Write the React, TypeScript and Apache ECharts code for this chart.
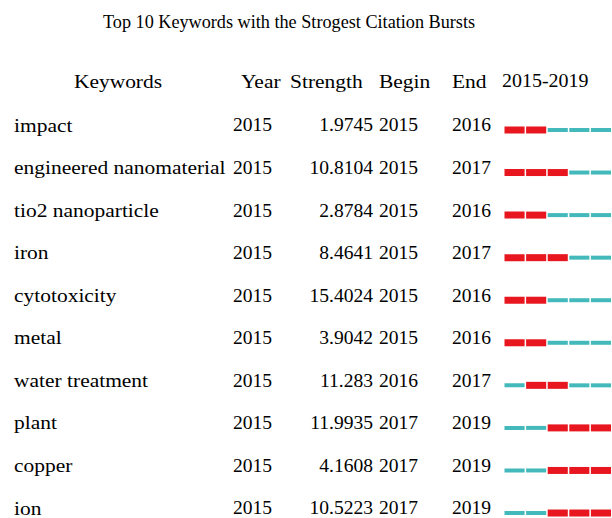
import React, { useEffect, useRef } from "react";
import * as echarts from "echarts";

const titleText = "Top 10 Keywords with the Strogest Citation Bursts";
const headers = ["Keywords", "Year", "Strength", "Begin", "End", "2015-2019"];
const keywords = [
  "impact",
  "engineered nanomaterial",
  "tio2 nanoparticle",
  "iron",
  "cytotoxicity",
  "metal",
  "water treatment",
  "plant",
  "copper",
  "ion",
];
const years = [2015, 2015, 2015, 2015, 2015, 2015, 2015, 2015, 2015, 2015];
const strengths = [1.9745, 10.8104, 2.8784, 8.4641, 15.4024, 3.9042, 11.283, 11.9935, 4.1608, 10.5223];
const begins = [2015, 2015, 2015, 2015, 2015, 2015, 2016, 2017, 2017, 2017];
const ends = [2016, 2017, 2016, 2017, 2016, 2016, 2017, 2019, 2019, 2019];
const rangeStart = 2015;
const rangeEnd = 2019;

const FONT = "'Liberation Serif', 'Times New Roman', serif";
const RED = "#e8171f";
const CYAN = "#43b9bb";

export default function App() {
  const ref = useRef<HTMLDivElement>(null);
  useEffect(() => {
    document.body.style.margin = "0";
    const chart = echarts.init(ref.current!, undefined, { renderer: "svg" });
    const fs = 19;
    const font = `${fs}px ${FONT}`;
    const LS = 1.13; // letter text horizontal stretch
    const NS = 1.03; // number text horizontal stretch
    const gridTop = 108.7;
    const rowH = 42.56;
    const gridH = 518 - gridTop;
    const yMax = -0.5 + gridH / rowH;
    const hdr = (text: string, x: number, align: string, sx: number) => ({
      type: "text",
      x,
      y: 81,
      scaleX: sx,
      style: { text, font, fill: "#000", align, verticalAlign: "middle" },
    });
    const option: any = {
      animation: false,
      backgroundColor: "#ffffff",
      grid: { left: 504, top: gridTop, width: 110, height: gridH },
      xAxis: { type: "value", min: rangeStart, max: rangeEnd + 1, show: false },
      yAxis: { type: "value", min: -0.5, max: yMax, inverse: true, show: false },
      graphic: [
        {
          type: "text",
          x: 289,
          y: 22,
          style: { text: titleText, font: `18.2px ${FONT}`, fill: "#000", align: "center", verticalAlign: "middle" },
        },
        hdr(headers[0], 118, "center", LS),
        hdr(headers[1], 241, "left", LS),
        hdr(headers[2], 290, "left", LS),
        hdr(headers[3], 379, "left", LS),
        hdr(headers[4], 452, "left", LS),
        hdr(headers[5], 502, "left", 1.05),
      ],
      series: [
        {
          type: "custom",
          clip: false,
          encode: { x: 1, y: 0 },
          data: keywords.map((k, i) => [i, begins[i], ends[i]]),
          renderItem: (params: any, api: any) => {
            const idx = api.value(0);
            const b = api.value(1);
            const e = api.value(2);
            const cy = api.coord([rangeStart, idx])[1];
            const ty = cy - 5;
            const children: any[] = [];
            const txt = (text: string, x: number, align: string, sx: number) => ({
              type: "text",
              x,
              y: ty,
              scaleX: sx,
              style: { text, font, fill: "#000", align, verticalAlign: "middle" },
            });
            children.push(txt(keywords[idx], 14, "left", LS));
            children.push(txt(String(years[idx]), 233, "left", NS));
            children.push(txt(String(strengths[idx]), 373, "right", NS));
            children.push(txt(String(b), 379, "left", NS));
            children.push(txt(String(e), 452, "left", NS));
            for (let yr = rangeStart; yr <= rangeEnd; yr++) {
              const x0 = api.coord([yr, idx])[0];
              const x1 = api.coord([yr + 1, idx])[0];
              const on = yr >= b && yr <= e;
              const h = on ? 7 : 4;
              children.push({
                type: "rect",
                shape: { x: x0 + 0.5, y: cy - h / 2, width: x1 - x0 - 1.5, height: h },
                style: { fill: on ? RED : CYAN },
              });
            }
            return { type: "group", children };
          },
        },
      ],
    };
    chart.setOption(option);
    return () => chart.dispose();
  }, []);
  return <div ref={ref} style={{ width: 612, height: 518 }} />;
}
